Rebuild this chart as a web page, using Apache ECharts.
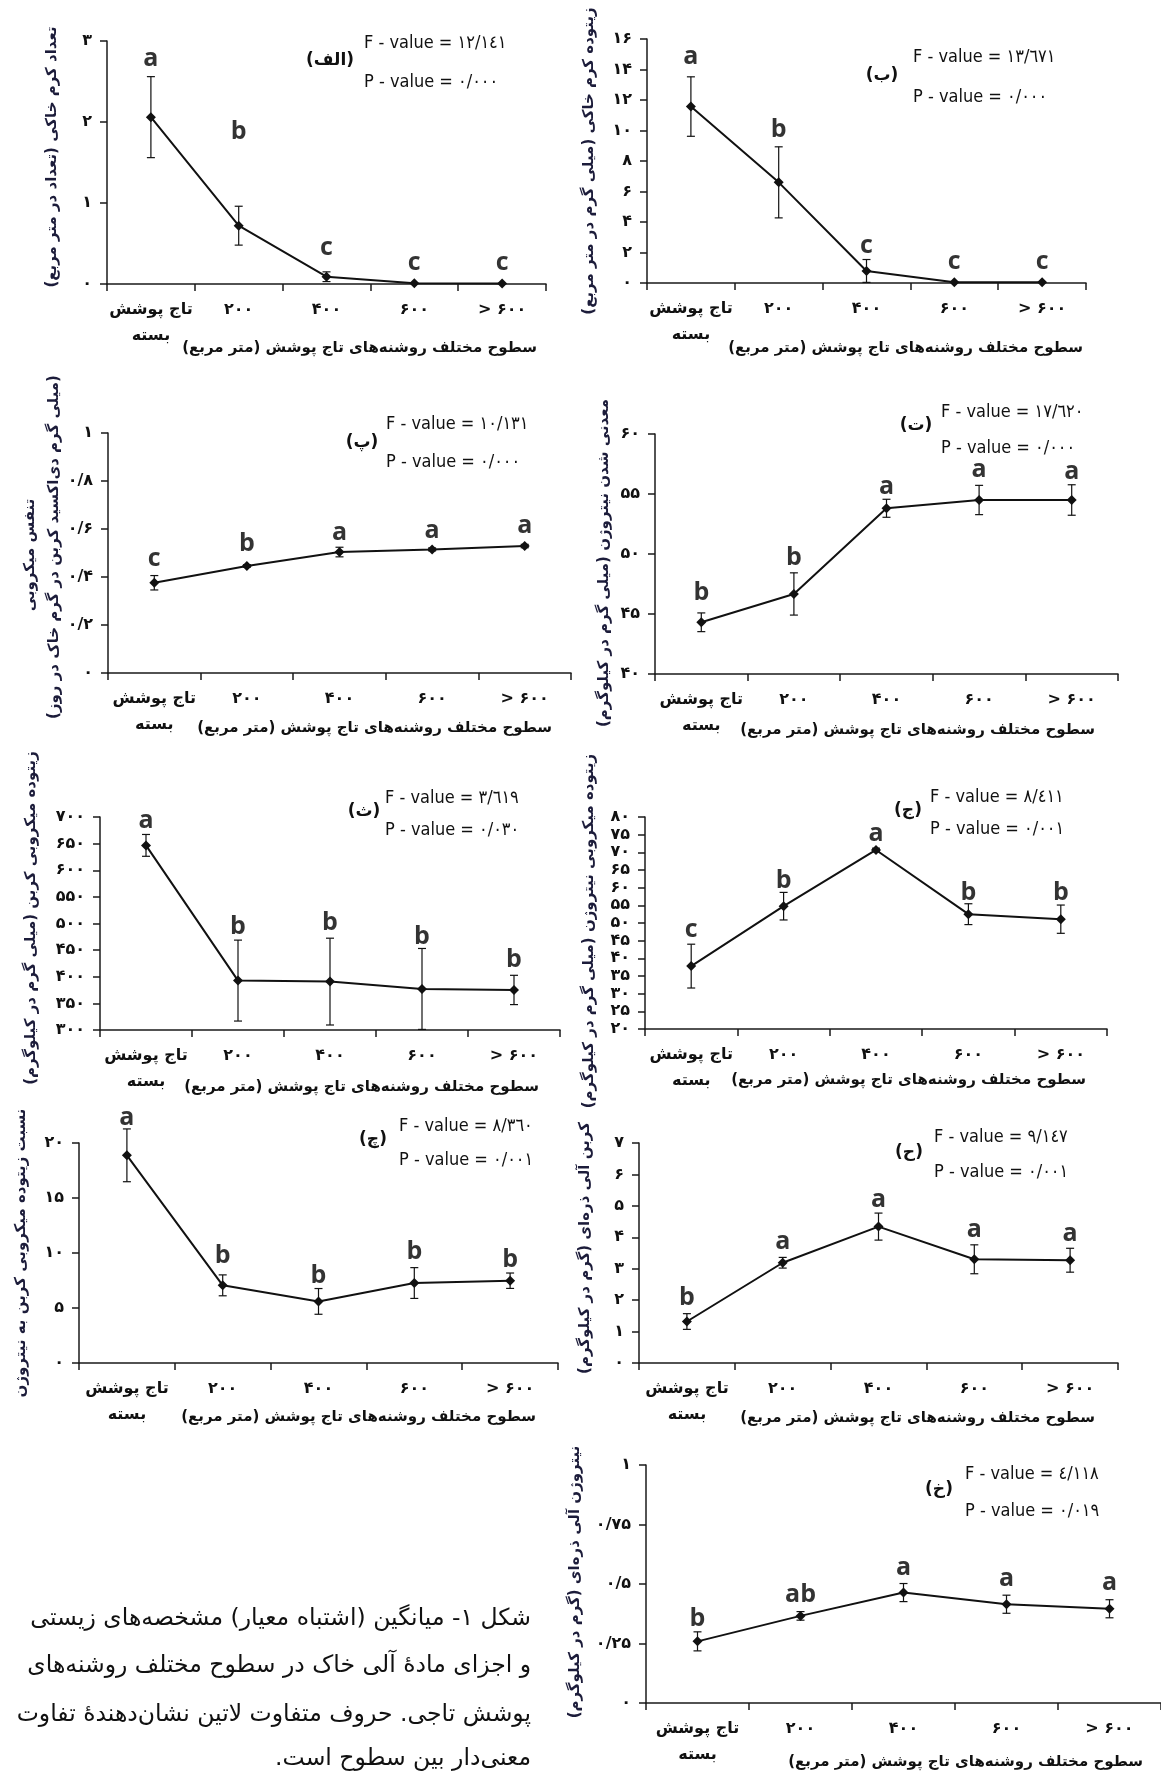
<!DOCTYPE html>
<html><head><meta charset="utf-8">
<script src="https://cdn.jsdelivr.net/npm/echarts@6/dist/echarts.min.js"></script>
<style>html,body{margin:0;padding:0;background:#fff}#c{width:1161px;height:1773px}</style>
</head><body><div id="c"></div>
<script>
// ---------- data ----------
const categories = ['تاج پوشش\nبسته', '۲۰۰', '۴۰۰', '۶۰۰', '> ۶۰۰'];

const mean1 = [2.06, 0.72, 0.09, 0.01, 0.005];
const se1   = [0.50, 0.24, 0.06, 0, 0];
const letters1 = ['a', 'b', 'c', 'c', 'c'];
const letterY1 = [2.78, 1.88, 0.44, 0.255, 0.255];
const yTicks1 = ['۰', '۱', '۲', '۳'];

const mean2 = [11.57, 6.60, 0.79, 0.05, 0.05];
const se2   = [1.95, 2.33, 0.75, 0, 0];
const letters2 = ['a', 'b', 'c', 'c', 'c'];
const letterY2 = [14.86, 10.04, 2.41, 1.38, 1.38];
const yTicks2 = ['۰', '۲', '۴', '۶', '۸', '۱۰', '۱۲', '۱۴', '۱۶'];

const mean3 = [0.376, 0.446, 0.504, 0.515, 0.529];
const se3   = [0.03, 0.005, 0.02, 0.006, 0.007];
const letters3 = ['c', 'b', 'a', 'a', 'a'];
const letterY3 = [0.476, 0.539, 0.583, 0.594, 0.612];
const yTicks3 = ['۰', '۰/۲', '۰/۴', '۰/۶', '۰/۸', '۱'];

const mean4 = [44.31, 46.67, 53.81, 54.5, 54.5];
const se4   = [0.78, 1.76, 0.75, 1.22, 1.27];
const letters4 = ['b', 'b', 'a', 'a', 'a'];
const letterY4 = [46.72, 49.64, 55.61, 57.0, 56.86];
const yTicks4 = ['۴۰', '۴۵', '۵۰', '۵۵', '۶۰'];

const mean5 = [646.7, 392.8, 390.9, 377.1, 375.2];
const se5   = [20.5, 76, 81.5, 76, 27.5];
const letters5 = ['a', 'b', 'b', 'b', 'b'];
const letterY5 = [693, 494, 500.6, 475.5, 431.7];
const yTicks5 = ['۳۰۰', '۳۵۰', '۴۰۰', '۴۵۰', '۵۰۰', '۵۵۰', '۶۰۰', '۶۵۰', '۷۰۰'];

const mean6 = [37.8, 54.76, 70.67, 52.5, 51.08];
const se6   = [6.2, 3.9, 0.5, 2.95, 4.0];
const letters6 = ['c', 'b', 'a', 'b', 'b'];
const letterY6 = [48, 61.8, 75.1, 58.5, 58.5];
const yTicks6 = ['۲۰', '۲۵', '۳۰', '۳۵', '۴۰', '۴۵', '۵۰', '۵۵', '۶۰', '۶۵', '۷۰', '۷۵', '۸۰'];

const mean7 = [18.88, 7.06, 5.6, 7.27, 7.48];
const se7   = [2.4, 0.95, 1.17, 1.4, 0.7];
const letters7 = ['a', 'b', 'b', 'b', 'b'];
const letterY7 = [22.27, 9.7, 7.88, 10.06, 9.39];
const yTicks7 = ['۰', '۵', '۱۰', '۱۵', '۲۰'];

const mean8 = [1.32, 3.19, 4.34, 3.30, 3.27];
const se8   = [0.25, 0.17, 0.43, 0.46, 0.38];
const letters8 = ['b', 'a', 'a', 'a', 'a'];
const letterY8 = [2.06, 3.86, 5.18, 4.25, 4.12];
const yTicks8 = ['۰', '۱', '۲', '۳', '۴', '۵', '۶', '۷'];

const mean9 = [0.259, 0.366, 0.464, 0.415, 0.396];
const se9   = [0.04, 0.018, 0.038, 0.038, 0.038];
const letters9 = ['b', 'ab', 'a', 'a', 'a'];
const letterY9 = [0.354, 0.455, 0.566, 0.520, 0.503];
const yTicks9 = ['۰', '۰/۲۵', '۰/۵', '۰/۷۵', '۱'];

const fValues = ['۱۲/۱٤۱', '۱۳/٦۷۱', '۱۰/۱۳۱', '۱۷/٦۲۰', '۳/٦۱۹', '۸/٤۱۱', '۸/۳٦۰', '۹/۱٤۷', '٤/۱۱۸'];
const pValues = ['۰/۰۰۰', '۰/۰۰۰', '۰/۰۰۰', '۰/۰۰۰', '۰/۰۳۰', '۰/۰۰۱', '۰/۰۰۱', '۰/۰۰۱', '۰/۰۱۹'];
const panelLabels = ['(الف)', '(ب)', '(پ)', '(ت)', '(ث)', '(ج)', '(چ)', '(ح)', '(خ)'];
const yTitles = [
  ['تعداد کرم خاکی (تعداد در متر مربع)'],
  ['زیتوده کرم خاکی (میلی گرم در متر مربع)'],
  ['تنفس میکروبی', '(میلی گرم دی‌اکسید کربن در گرم خاک در روز)'],
  ['معدنی شدن نیتروژن (میلی گرم در کیلوگرم)'],
  ['زیتوده میکروبی کربن (میلی گرم در کیلوگرم)'],
  ['زیتوده میکروبی نیتروژن (میلی گرم در کیلوگرم)'],
  ['نسبت زیتوده میکروبی کربن به نیتروژن'],
  ['کربن آلی ذره‌ای (گرم در کیلوگرم)'],
  ['نیتروژن آلی ذره‌ای (گرم در کیلوگرم)']
];
const xTitle = 'سطوح مختلف روشنه‌های تاج پوشش (متر مربع)';
const caption = [
  'شکل ۱- میانگین (اشتباه معیار) مشخصه‌های زیستی',
  'و اجزای مادهٔ آلی خاک در سطوح مختلف روشنه‌های',
  'پوشش تاجی. حروف متفاوت لاتین نشان‌دهندهٔ تفاوت',
  'معنی‌دار بین سطوح است.'
];

// ---------- layout ----------
const panels = [
  {mean: mean1, se: se1, letters: letters1, letterY: letterY1, ticks: yTicks1, min: 0, max: 3, interval: 1,
   grid: [107, 41, 439, 243], fx: 364, fy: 43, py: 82, lx: 330, ly: 61, yt: [[52, 157]], xt: [537, 348]},
  {mean: mean2, se: se2, letters: letters2, letterY: letterY2, ticks: yTicks2, min: 0, max: 16, interval: 2,
   grid: [647, 39, 439, 244], fx: 913, fy: 57, py: 97, lx: 882, ly: 76, yt: [[589, 161]], xt: [1083, 348]},
  {mean: mean3, se: se3, letters: letters3, letterY: letterY3, ticks: yTicks3, min: 0, max: 1, interval: 0.2,
   grid: [108, 433, 463, 240], fx: 386, fy: 424, py: 462, lx: 362, ly: 443, yt: [[30, 555], [54, 547]], xt: [552, 728]},
  {mean: mean4, se: se4, letters: letters4, letterY: letterY4, ticks: yTicks4, min: 40, max: 60, interval: 5,
   grid: [655, 434, 463, 240], fx: 941, fy: 412, py: 448, lx: 916, ly: 426, yt: [[604, 563]], xt: [1095, 730]},
  {mean: mean5, se: se5, letters: letters5, letterY: letterY5, ticks: yTicks5, min: 300, max: 700, interval: 50,
   grid: [100, 817, 460, 213], fx: 385, fy: 798, py: 830, lx: 364, ly: 812, yt: [[31, 918]], xt: [539, 1087]},
  {mean: mean6, se: se6, letters: letters6, letterY: letterY6, ticks: yTicks6, min: 20, max: 80, interval: 5,
   grid: [645, 817, 462, 212], fx: 930, fy: 797, py: 829, lx: 908, ly: 811, yt: [[589, 931]], xt: [1086, 1080]},
  {mean: mean7, se: se7, letters: letters7, letterY: letterY7, ticks: yTicks7, min: 0, max: 20, interval: 5,
   grid: [79, 1143, 479, 220], fx: 399, fy: 1126, py: 1160, lx: 373, ly: 1140, yt: [[21, 1253]], xt: [536, 1417]},
  {mean: mean8, se: se8, letters: letters8, letterY: letterY8, ticks: yTicks8, min: 0, max: 7, interval: 1,
   grid: [639, 1143, 479, 220], fx: 934, fy: 1137, py: 1172, lx: 909, ly: 1153, yt: [[585, 1248]], xt: [1095, 1418]},
  {mean: mean9, se: se9, letters: letters9, letterY: letterY9, ticks: yTicks9, min: 0, max: 1, interval: 0.25,
   grid: [646, 1465, 517, 238], fx: 965, fy: 1474, py: 1511, lx: 939, ly: 1490, yt: [[575, 1582]], xt: [1143, 1762]}
];

const FA = "'DejaVu Sans', sans-serif";
const FL = "'DejaVu Sans Condensed', 'Liberation Sans Narrow', 'DejaVu Sans', sans-serif";
const INK = '#111111';
const RTL = s => '\u202B' + s + '\u202C';
const axisStyle = {color: '#1a1a1a', width: 1.5};

const option = {animation: false, backgroundColor: '#fff', grid: [], xAxis: [], yAxis: [], series: [], graphic: []};

panels.forEach((p, k) => {
  option.grid.push({left: p.grid[0], top: p.grid[1], width: p.grid[2], height: p.grid[3], containLabel: false});
  option.xAxis.push({
    type: 'category', gridIndex: k, data: categories, boundaryGap: true,
    axisLine: {show: true, onZero: false, lineStyle: axisStyle},
    axisTick: {show: true, interval: 0, length: 7, alignWithLabel: false, lineStyle: axisStyle},
    axisLabel: {interval: 0, margin: 13, fontFamily: FA, fontSize: 16, fontWeight: 'bold', color: INK, lineHeight: 26},
    splitLine: {show: false}
  });
  option.yAxis.push({
    type: 'value', gridIndex: k, min: p.min, max: p.max, interval: p.interval,
    axisLine: {show: true, onZero: false, lineStyle: axisStyle},
    axisTick: {show: true, length: 7, lineStyle: axisStyle},
    axisLabel: {margin: 15, fontFamily: FA, fontSize: 16, fontWeight: 'bold', color: INK,
      formatter: v => p.ticks[Math.round((v - p.min) / p.interval)]},
    splitLine: {show: false}
  });
  // error bars
  option.series.push({
    type: 'custom', xAxisIndex: k, yAxisIndex: k, clip: false, z: 2, silent: true,
    data: p.mean.map((m, i) => [i, m - p.se[i], m + p.se[i]]),
    renderItem: (params, api) => {
      const lo = api.coord([api.value(0), api.value(1)]);
      const hi = api.coord([api.value(0), api.value(2)]);
      if (Math.abs(hi[1] - lo[1]) < 2) return {type: 'group', children: []};
      const w = 4, st = {stroke: INK, lineWidth: 1.2};
      return {type: 'group', children: [
        {type: 'line', shape: {x1: hi[0], y1: hi[1], x2: lo[0], y2: lo[1]}, style: st},
        {type: 'line', shape: {x1: hi[0] - w, y1: hi[1], x2: hi[0] + w, y2: hi[1]}, style: st},
        {type: 'line', shape: {x1: lo[0] - w, y1: lo[1], x2: lo[0] + w, y2: lo[1]}, style: st}
      ]};
    }
  });
  // mean line
  option.series.push({
    type: 'line', xAxisIndex: k, yAxisIndex: k, data: p.mean, z: 3, silent: true,
    symbol: 'diamond', symbolSize: 10, showSymbol: true,
    lineStyle: {color: INK, width: 2}, itemStyle: {color: INK}
  });
  // significance letters
  option.series.push({
    type: 'scatter', xAxisIndex: k, yAxisIndex: k, clip: false, z: 4, silent: true,
    symbolSize: 1, itemStyle: {color: 'rgba(0,0,0,0)'},
    data: p.letterY.map((v, i) => [i, v]),
    label: {show: true, position: 'inside', formatter: prm => p.letters[prm.dataIndex],
      fontFamily: "'Open Sans', sans-serif", fontSize: 25, fontWeight: 'bold', color: '#000',
      textBorderWidth: 0}
  });
  // texts
  option.graphic.push(
    {type: 'text', x: p.fx, y: p.fy, style: {text: 'F - value = ' + fValues[k], fontFamily: FL, fontSize: 18, fill: INK, align: 'left', verticalAlign: 'middle'}},
    {type: 'text', x: p.fx, y: p.py, style: {text: 'P - value = ' + pValues[k], fontFamily: FL, fontSize: 18, fill: INK, align: 'left', verticalAlign: 'middle'}},
    {type: 'text', x: p.lx, y: p.ly, style: {text: RTL(panelLabels[k]), fontFamily: FA, fontSize: 17, fontWeight: 'bold', fill: INK, align: 'center', verticalAlign: 'middle'}},
    {type: 'text', x: p.xt[0], y: p.xt[1], style: {text: RTL(xTitle), fontFamily: FA, fontSize: 15, fontWeight: 'bold', fill: INK, align: 'right', verticalAlign: 'middle'}}
  );
  p.yt.forEach((pos, j) => {
    option.graphic.push({type: 'text', x: pos[0], y: pos[1], rotation: Math.PI / 2,
      style: {text: RTL(yTitles[k][j]), fontFamily: FA, fontSize: 15, fontWeight: 'bold', fill: '#1c1c3a', align: 'center', verticalAlign: 'middle'}});
  });
});

const capY = [1619, 1666, 1715, 1759];
caption.forEach((line, i) => {
  option.graphic.push({type: 'text', x: 531, y: capY[i],
    style: {text: RTL(line), fontFamily: FA, fontSize: 23.5, fill: INK, align: 'right', verticalAlign: 'middle'}});
});

const chart = echarts.init(document.getElementById('c'), null, {renderer: 'canvas'});
chart.setOption(option);
</script>
</body></html>
